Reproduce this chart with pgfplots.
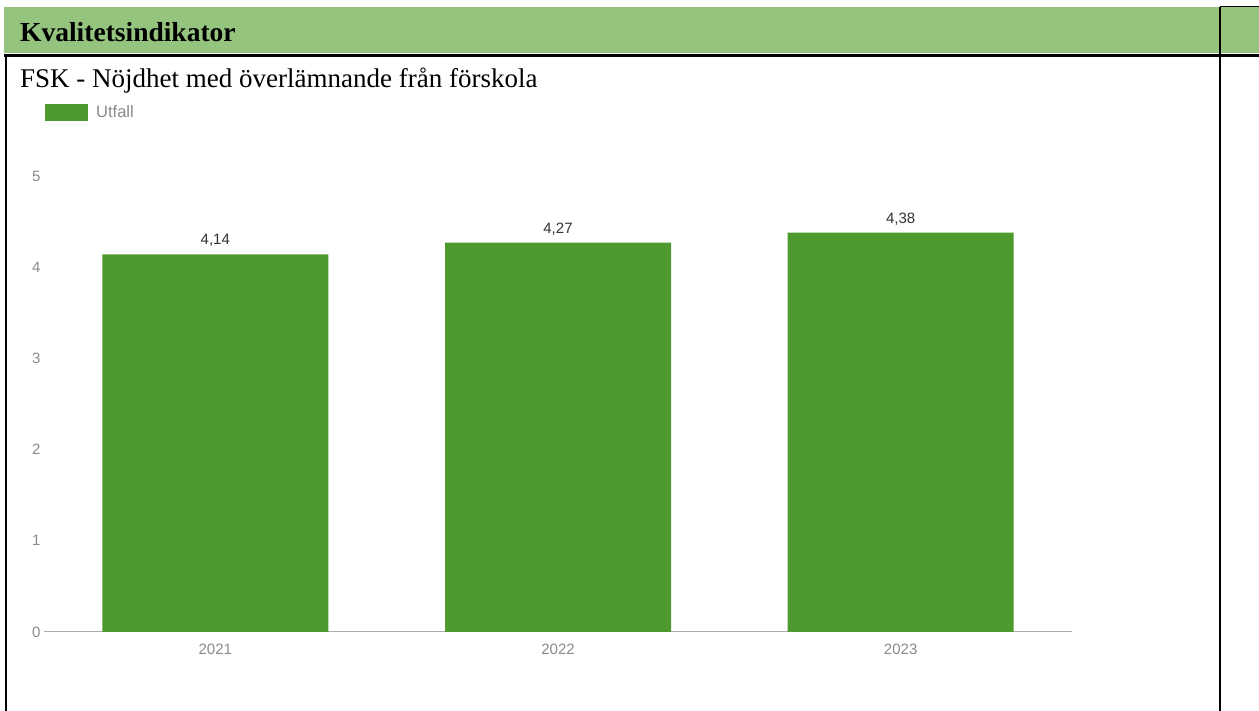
\documentclass[border=0pt]{standalone}
\usepackage{fontspec}
\setmainfont{Liberation Serif}
\newfontfamily\sansf{Liberation Sans}
\usepackage{pgfplots}
\pgfplotsset{compat=1.18}
\definecolor{hdr}{HTML}{95C47F}
\definecolor{barc}{HTML}{4E9A2F}
\definecolor{tickc}{HTML}{8A8A8A}
\definecolor{valc}{HTML}{333333}
\begin{document}
\begin{tikzpicture}[x=1pt,y=1pt]
\useasboundingbox (0,0) rectangle (1259,711);
\fill[white] (0,0) rectangle (1259,711);
\fill[hdr] (4,658) rectangle (1259,704);
\draw[line width=3pt] (4,655) -- (1259,655);
\draw[line width=2pt] (6,655) -- (6,0);
\draw[line width=2pt] (1220,704) -- (1220,0);
\draw[line width=1pt] (1220,704) -- (1259,704);
\node[anchor=base west, inner sep=0pt, font=\bfseries\fontsize{27.5}{30}\selectfont] at (20,669) {Kvalitetsindikator};
\node[anchor=base west, inner sep=0pt, font=\fontsize{27}{30}\selectfont] at (20,623) {FSK - Nöjdhet med överlämnande från förskola};
\begin{axis}[
  at={(44pt,79pt)}, anchor=south west,
  scale only axis, width=1028pt, height=456pt,
  xmin=-0.5, xmax=2.5, ymin=0, ymax=5,
  axis x line=bottom, axis y line=left,
  x axis line style={draw=tickc!70, line width=1pt, -},
  y axis line style={draw=none},
  major tick length=0pt,
  xtick={0,1,2}, xticklabels={2021,2022,2023},
  ytick={0,1,2,3,4,5}, yticklabels={0,1,2,3,4,5},
  tick label style={font=\sansf\fontsize{15}{17}\selectfont, text=tickc},
  xticklabel style={yshift=-8pt},
  ybar, bar width=226pt,
  nodes near coords,
  every node near coord/.append style={/pgf/number format/.cd, use comma, fixed, precision=2, fixed zerofill, assume math mode=true, /tikz/.cd, font=\sansf\fontsize{15}{17}\selectfont, text=valc, yshift=4pt},
  legend style={draw=none, fill=none, at={(axis description cs:0,1)}, anchor=south west,
    xshift=1pt, yshift=55pt, inner sep=0pt,
    font=\sansf\fontsize{16.5}{18}\selectfont, text=tickc,
    nodes={inner xsep=8pt}},
  legend image code/.code={\fill[barc] (0pt,-8.5pt) rectangle (43pt,8.5pt);},
]
\addplot[fill=barc, draw=none] coordinates {(0,4.14) (1,4.27) (2,4.38)};
\addlegendentry{Utfall}
\end{axis}
\end{tikzpicture}
\end{document}
